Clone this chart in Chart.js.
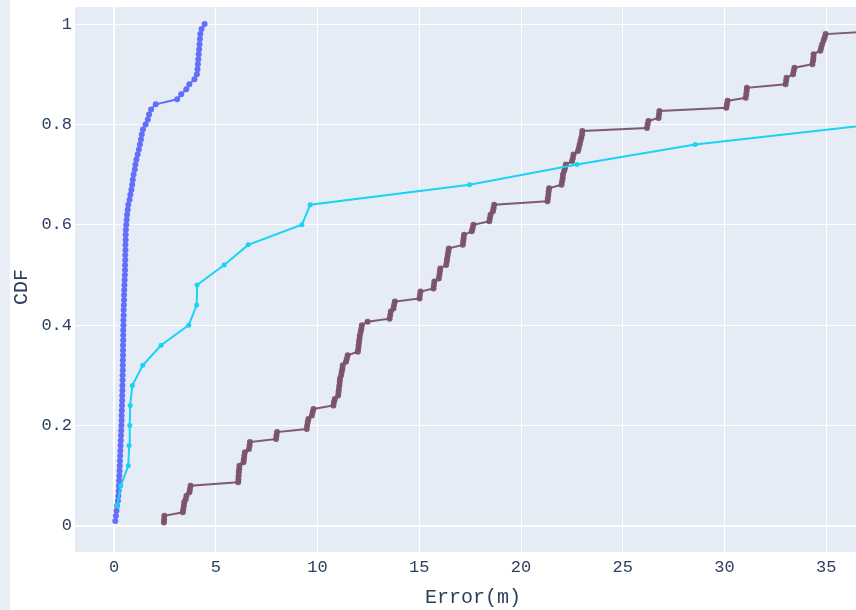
<!DOCTYPE html>
<html>
  <head>
    <meta charset="UTF-8">
    <title>CDF</title>
    <script src="https://cdn.jsdelivr.net/npm/chart.js"></script>
    <style>
      html, body { margin: 0; padding: 0; background: #fff; overflow: hidden; width: 856px; height: 610px; }
      #strip { position: absolute; left: 0; top: 0; width: 10px; height: 610px; background: #e9eef7; }
      #wrap { position: absolute; left: 10px; top: 0; }
    </style>
  </head>
  <body>
    <div id="strip"></div>
    <div id="wrap"><canvas id="myChart" width="880" height="610"></canvas></div>

    <script>
      // tick values
      const xTicks = [0, 5, 10, 15, 20, 25, 30, 35];
      const yTicks = [0, 0.2, 0.4, 0.6, 0.8, 1];

      // blue series [error, cdf]
      const blueData = [
        [0.06,0.01],[0.09,0.02],[0.12,0.03],[0.15,0.04],[0.19,0.05],[0.21,0.06],[0.23,0.07],[0.24,0.08],[0.25,0.09],[0.26,0.10],
        [0.27,0.11],[0.28,0.12],[0.29,0.13],[0.30,0.14],[0.31,0.15],[0.32,0.16],[0.33,0.17],[0.34,0.18],[0.35,0.19],[0.36,0.20],
        [0.37,0.21],[0.37,0.22],[0.38,0.23],[0.39,0.24],[0.40,0.25],[0.40,0.26],[0.41,0.27],[0.41,0.28],[0.42,0.29],[0.42,0.30],
        [0.43,0.31],[0.43,0.32],[0.43,0.33],[0.44,0.34],[0.44,0.35],[0.44,0.36],[0.45,0.37],[0.45,0.38],[0.45,0.39],[0.46,0.40],
        [0.46,0.41],[0.47,0.42],[0.47,0.43],[0.48,0.44],[0.49,0.45],[0.49,0.46],[0.50,0.47],[0.51,0.48],[0.52,0.49],[0.53,0.50],
        [0.54,0.51],[0.54,0.52],[0.55,0.53],[0.55,0.54],[0.56,0.55],[0.56,0.56],[0.57,0.57],[0.57,0.58],[0.58,0.59],[0.60,0.60],
        [0.62,0.61],[0.64,0.62],[0.67,0.63],[0.70,0.64],[0.76,0.65],[0.80,0.66],[0.85,0.67],[0.89,0.68],[0.92,0.69],[0.96,0.70],
        [1.02,0.71],[1.05,0.72],[1.10,0.73],[1.16,0.74],[1.22,0.75],[1.27,0.76],[1.32,0.77],[1.36,0.78],[1.42,0.79],[1.55,0.80],
        [1.66,0.81],[1.72,0.82],[1.82,0.83],[2.05,0.84],[3.10,0.85],[3.30,0.86],[3.55,0.87],[3.70,0.88],[3.95,0.89],[4.07,0.90],
        [4.10,0.91],[4.12,0.92],[4.14,0.93],[4.16,0.94],[4.18,0.95],[4.20,0.96],[4.22,0.97],[4.24,0.98],[4.30,0.99],[4.45,1.00]
      ];

      // cyan series
      const cyanData = [
        [0.16,0.04],[0.33,0.08],[0.70,0.12],[0.74,0.16],[0.77,0.20],[0.79,0.24],[0.90,0.28],[1.41,0.32],[2.31,0.36],[3.67,0.40],
        [4.06,0.44],[4.08,0.48],[5.41,0.52],[6.59,0.56],[9.23,0.60],[9.64,0.64],[17.47,0.68],[22.75,0.72],[28.56,0.76],[37.38,0.80]
      ];

      // mauve series
      const mauveData = [
        [2.45,0.007],[2.46,0.013],[2.47,0.020],
        [3.38,0.027],[3.40,0.033],[3.43,0.040],[3.45,0.047],
        [3.52,0.053],[3.56,0.060],
        [3.70,0.067],[3.73,0.073],[3.76,0.080],
        [6.10,0.087],[6.11,0.093],[6.12,0.100],[6.13,0.107],[6.15,0.113],[6.16,0.120],
        [6.36,0.127],[6.38,0.133],[6.40,0.140],[6.43,0.147],
        [6.63,0.153],[6.66,0.160],[6.68,0.167],
        [7.96,0.173],[7.98,0.180],[8.01,0.187],
        [9.47,0.193],[9.49,0.200],[9.52,0.207],[9.55,0.213],
        [9.72,0.220],[9.76,0.227],[9.80,0.233],
        [10.78,0.240],[10.81,0.247],[10.85,0.253],
        [11.01,0.260],[11.03,0.267],[11.05,0.273],[11.07,0.280],[11.09,0.287],[11.10,0.293],
        [11.16,0.300],[11.19,0.307],[11.22,0.313],[11.24,0.320],
        [11.40,0.327],[11.44,0.333],[11.48,0.340],
        [11.98,0.347],[12.00,0.353],[12.02,0.360],[12.04,0.367],[12.06,0.373],[12.08,0.380],
        [12.12,0.387],[12.15,0.393],[12.18,0.400],
        [12.46,0.407],
        [13.54,0.413],[13.57,0.420],[13.60,0.427],
        [13.73,0.433],[13.76,0.440],[13.80,0.447],
        [15.01,0.453],[15.03,0.460],[15.06,0.467],
        [15.70,0.473],[15.72,0.480],[15.74,0.487],
        [15.96,0.493],[15.99,0.500],[16.01,0.507],[16.03,0.513],
        [16.32,0.520],[16.35,0.527],[16.37,0.533],[16.40,0.540],[16.43,0.547],[16.45,0.553],
        [17.14,0.560],[17.16,0.567],[17.18,0.573],[17.20,0.580],
        [17.58,0.587],[17.62,0.593],[17.66,0.600],
        [18.44,0.607],[18.47,0.613],[18.50,0.620],
        [18.62,0.627],[18.65,0.633],[18.68,0.640],
        [21.30,0.647],[21.32,0.653],[21.34,0.660],[21.36,0.667],[21.38,0.673],
        [21.99,0.680],[22.02,0.687],[22.05,0.693],[22.06,0.700],
        [22.12,0.707],[22.16,0.713],[22.20,0.720],
        [22.51,0.727],[22.55,0.733],[22.58,0.740],
        [22.80,0.747],[22.84,0.753],[22.88,0.760],
        [22.92,0.767],[22.96,0.773],[23.00,0.780],[23.01,0.787],
        [26.19,0.793],[26.22,0.800],[26.26,0.807],
        [26.76,0.813],[26.78,0.820],[26.80,0.827],
        [30.09,0.833],[30.12,0.840],[30.15,0.847],
        [31.04,0.853],[31.07,0.860],[31.09,0.867],[31.10,0.873],
        [33.00,0.880],[33.03,0.887],[33.05,0.893],
        [33.37,0.900],[33.40,0.907],[33.44,0.913],
        [34.32,0.920],[34.35,0.927],[34.37,0.933],[34.38,0.940],
        [34.71,0.947],[34.75,0.953],[34.80,0.960],
        [34.87,0.967],[34.92,0.973],[34.97,0.980],
        [38.00,0.987],[38.30,0.993],[38.50,1.000]
      ];

      const toXY = arr => arr.map(p => ({ x: p[0], y: p[1] }));
      const textColor = '#2a3f5f';
      const monoFont = "'Liberation Mono', 'DejaVu Sans Mono', monospace";

      // fond de la zone de tracé + titres des axes
      const plotBg = {
        id: 'plotBg',
        beforeDraw(chart) {
          const { ctx, chartArea: a } = chart;
          ctx.save();
          ctx.fillStyle = '#e5ecf6';
          ctx.fillRect(a.left, a.top, a.right - a.left, a.bottom - a.top);
          ctx.restore();
        },
        afterDraw(chart) {
          const { ctx, chartArea: a } = chart;
          ctx.save();
          ctx.fillStyle = textColor;
          ctx.font = '20px ' + monoFont;
          ctx.textAlign = 'center';
          ctx.textBaseline = 'middle';
          ctx.fillText('Error(m)', (a.left + a.right) / 2, 598);
          ctx.translate(12, 287);
          ctx.rotate(-Math.PI / 2);
          ctx.fillText('CDF', 0, 0);
          ctx.restore();
        }
      };

      const gridOpts = {
        color: '#ffffff',
        lineWidth: c => (c.tick && c.tick.value === 0 ? 2 : 1),
        drawTicks: false
      };

      const ctx = document.getElementById('myChart').getContext('2d');
      const chart = new Chart(ctx, {
        type: 'line',
        data: {
          datasets: [
            {
              label: 'cyan',
              data: toXY(cyanData),
              borderColor: '#19d3f3',
              backgroundColor: '#19d3f3',
              borderWidth: 2,
              pointRadius: 2.5,
              pointBorderWidth: 0,
              order: 0
            },
            {
              label: 'blue',
              data: toXY(blueData),
              borderColor: '#636efa',
              backgroundColor: '#636efa',
              borderWidth: 2,
              pointRadius: 3,
              pointBorderWidth: 0,
              order: 1
            },
            {
              label: 'mauve',
              data: toXY(mauveData),
              borderColor: 'rgba(122,82,106,0.95)',
              backgroundColor: 'rgba(122,82,106,0.95)',
              borderWidth: 2,
              pointRadius: 3,
              pointBorderWidth: 0,
              order: 2
            }
          ]
        },
        options: {
          responsive: false,
          animation: false,
          devicePixelRatio: 1,
          layout: { padding: { left: 0, top: 7, right: 19, bottom: 0 } },
          plugins: { legend: { display: false }, tooltip: { enabled: false } },
          elements: { line: { tension: 0 } },
          scales: {
            x: {
              type: 'linear',
              min: -1.92,
              max: 37.2,
              afterFit: s => { s.height = 58; s.paddingLeft = 0; s.paddingRight = 0; },
              afterBuildTicks: s => { s.ticks = xTicks.map(v => ({ value: v })); },
              grid: gridOpts,
              border: { display: false },
              ticks: {
                color: textColor,
                font: { family: monoFont, size: 17 },
                padding: 5,
                maxRotation: 0,
                callback: v => String(v)
              }
            },
            y: {
              type: 'linear',
              min: -0.052,
              max: 1.034,
              afterFit: s => { s.width = 65; s.paddingTop = 0; s.paddingBottom = 0; },
              afterBuildTicks: s => { s.ticks = yTicks.map(v => ({ value: v })); },
              grid: gridOpts,
              border: { display: false },
              ticks: {
                color: textColor,
                font: { family: monoFont, size: 17 },
                padding: 3,
                callback: v => String(v)
              }
            }
          }
        },
        plugins: [plotBg]
      });
    </script>
  </body>
</html>
